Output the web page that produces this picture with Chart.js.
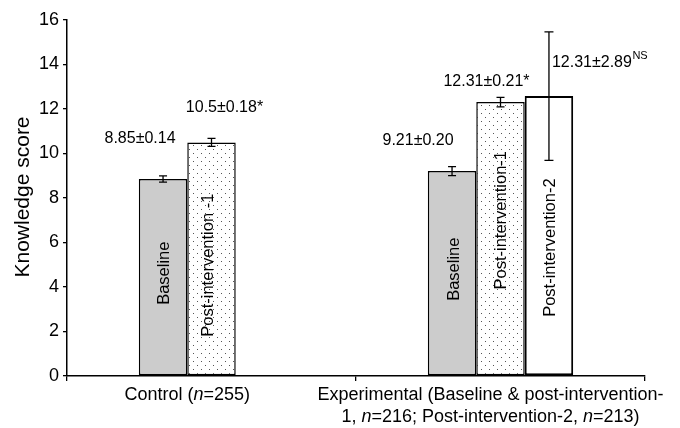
<!DOCTYPE html>
<html>
<head>
<meta charset="utf-8">
<script src="https://cdn.jsdelivr.net/npm/chart.js@4"></script>
<style>
  html, body { margin: 0; padding: 0; background: #fff; }
  #wrap { width: 680px; height: 428px; position: relative; }
</style>
</head>
<body>
<div id="wrap"><canvas id="c" width="680" height="428"></canvas></div>
<script>
// ---- data ----
const categories = ['Control', 'Experimental'];
const baseline = [8.85, 9.21];
const post1 = [10.5, 12.31];
const post2 = [null, 12.58];
const baselineErr = [0.14, 0.20];
const post1Err = [0.18, 0.21];
const post2Err = [null, 2.89];
const baselineText = ['8.85±0.14', '9.21±0.20'];
const post1Text = ['10.5±0.18*', '12.31±0.21*'];
const post2Text = [null, '12.31±2.89'];
const post2Sup = [null, 'NS'];
const seriesNames = ['Baseline', 'Post-intervention-1', 'Post-intervention-2'];
const yMin = 0, yMax = 16, yStep = 2;

const FONT = '"Liberation Sans", Arial, Helvetica, sans-serif';

// dotted pattern
function makePattern() {
  const p = document.createElement('canvas');
  p.width = 8; p.height = 8;
  const g = p.getContext('2d');
  g.fillStyle = '#ffffff';
  g.fillRect(0, 0, 8, 8);
  g.fillStyle = '#555555';
  g.fillRect(1, 1, 1, 1);
  g.fillRect(5, 5, 1, 1);
  return g.createPattern(p, 'repeat');
}
const ctx0 = document.getElementById('c').getContext('2d');
const dots = makePattern();

const errs = [baselineErr, post1Err, post2Err];
const valueTexts = [baselineText, post1Text, post2Text];
// label placement relative to bar (px)
const valueLabelPlacement = [
  [{dx: -23, dy: -40, align: 'center'}, {dx: -34, dy: -30, align: 'center'}],
  [{dx: 13, dy: -35, align: 'center'}, {dx: -14, dy: -21, align: 'center'}],
  [null, {dx: 3, dy: -34, align: 'left'}]
];
// in-bar label centre (data units along bar) and x offset
const inBarPlacement = [
  [{at: 4.62, dx: 0, text: 'Baseline'}, {at: 4.8, dx: 1, text: 'Baseline'}],
  [{at: 4.98, dx: -4, text: 'Post-intervention -1'}, {at: 7.0, dx: 0, text: 'Post-intervention-1'}],
  [null, {at: 5.77, dx: 0, text: 'Post-intervention-2'}]
];

const xLabelLines = [
  [[['Control (', false], ['n', true], ['=255)', false]]],
  [[['Experimental (Baseline & post-intervention-', false]],
   [['1, ', false], ['n', true], ['=216; Post-intervention-2, ', false], ['n', true], ['=213)', false]]]
];

const annot = {
  id: 'annot',
  afterDatasetsDraw(chart) {
    const ctx = chart.ctx;
    const ys = chart.scales.y;
    const xs = chart.scales.x;
    ctx.save();
    // error bars
    ctx.strokeStyle = '#000';
    ctx.lineWidth = 1.3;
    for (let d = 0; d < 3; d++) {
      const meta = chart.getDatasetMeta(d);
      const vals = chart.data.datasets[d].data;
      for (let j = 0; j < vals.length; j++) {
        if (vals[j] == null) continue;
        const bar = meta.data[j];
        const e = errs[d][j];
        const yTop = ys.getPixelForValue(vals[j] + e);
        const yBot = ys.getPixelForValue(vals[j] - e);
        const cap = e > 1 ? 4.5 : 4;
        ctx.beginPath();
        ctx.moveTo(bar.x, yTop); ctx.lineTo(bar.x, yBot);
        ctx.moveTo(bar.x - cap, yTop); ctx.lineTo(bar.x + cap, yTop);
        ctx.moveTo(bar.x - cap, yBot); ctx.lineTo(bar.x + cap, yBot);
        ctx.stroke();
      }
    }
    // value labels
    ctx.fillStyle = '#000';
    ctx.textBaseline = 'middle';
    for (let d = 0; d < 3; d++) {
      const meta = chart.getDatasetMeta(d);
      const vals = chart.data.datasets[d].data;
      for (let j = 0; j < vals.length; j++) {
        if (vals[j] == null || !valueTexts[d][j]) continue;
        const bar = meta.data[j];
        const pl = valueLabelPlacement[d][j];
        ctx.font = '16px ' + FONT;
        ctx.textAlign = pl.align;
        const x = bar.x + pl.dx, y = bar.y + pl.dy;
        ctx.fillText(valueTexts[d][j], x, y);
        if (d === 2 && post2Sup[j]) {
          const w = ctx.measureText(valueTexts[d][j]).width;
          ctx.font = '11px ' + FONT;
          ctx.textAlign = 'left';
          ctx.fillText(post2Sup[j], x + w + 0.5, y - 6);
        }
      }
    }
    // in-bar labels
    ctx.font = '16.5px ' + FONT;
    ctx.textAlign = 'center';
    ctx.textBaseline = 'middle';
    for (let d = 0; d < 3; d++) {
      const meta = chart.getDatasetMeta(d);
      const vals = chart.data.datasets[d].data;
      for (let j = 0; j < vals.length; j++) {
        const pl = inBarPlacement[d][j];
        if (vals[j] == null || !pl) continue;
        const bar = meta.data[j];
        ctx.save();
        ctx.translate(bar.x + pl.dx, ys.getPixelForValue(pl.at));
        ctx.rotate(-Math.PI / 2);
        ctx.fillText(pl.text, 0, 1);
        ctx.restore();
      }
    }
    // x category labels (with italic n)
    const m0 = chart.getDatasetMeta(0), m1 = chart.getDatasetMeta(1);
    const centers = [
      (m0.data[0].x + m1.data[0].x) / 2,
      xs.getPixelForValue(1) - 10
    ];
    ctx.textBaseline = 'alphabetic';
    ctx.textAlign = 'left';
    const base0 = xs.top + 24;
    for (let c = 0; c < xLabelLines.length; c++) {
      xLabelLines[c].forEach((line, li) => {
        let total = 0;
        line.forEach(([t, it]) => { ctx.font = (it ? 'italic ' : '') + '18px ' + FONT; total += ctx.measureText(t).width; });
        let x = centers[c] - total / 2;
        const y = base0 + li * 21.5;
        line.forEach(([t, it]) => {
          ctx.font = (it ? 'italic ' : '') + '18px ' + FONT;
          ctx.fillText(t, x, y);
          x += ctx.measureText(t).width;
        });
      });
    }
    // y axis title
    ctx.save();
    ctx.font = '21px ' + FONT;
    ctx.textAlign = 'center';
    ctx.textBaseline = 'middle';
    ctx.translate(23, (chart.chartArea.top + chart.chartArea.bottom) / 2 - 1);
    ctx.rotate(-Math.PI / 2);
    ctx.fillText('Knowledge score', 0, 0);
    ctx.restore();
    ctx.restore();
  }
};

Chart.defaults.font.family = FONT;
Chart.defaults.color = '#000';

new Chart(ctx0, {
  type: 'bar',
  data: {
    labels: categories,
    datasets: [
      { label: seriesNames[0], data: baseline, backgroundColor: '#cccccc', borderColor: '#000', borderWidth: 1.5, borderSkipped: false },
      { label: seriesNames[1], data: post1, backgroundColor: dots, borderColor: '#000', borderWidth: 1.5, borderSkipped: false },
      { label: seriesNames[2], data: post2, backgroundColor: '#ffffff', borderColor: '#000', borderWidth: 2, borderSkipped: false }
    ]
  },
  options: {
    responsive: false,
    animation: false,
    events: [],
    categoryPercentage: 0.503,
    barPercentage: 1.0,
    layout: { padding: { left: 0, right: 35, top: 20, bottom: 0 } },
    plugins: { legend: { display: false }, tooltip: { enabled: false }, title: { display: false } },
    scales: {
      x: {
        offset: true,
        grid: { display: true, offset: true, drawOnChartArea: false, drawTicks: true, tickLength: 5, color: '#000', lineWidth: 1.3 },
        border: { display: true, color: '#000', width: 1.5 },
        ticks: { display: false },
        afterFit(s) { s.height = 52; }
      },
      y: {
        min: yMin, max: yMax,
        grid: { display: true, drawOnChartArea: false, drawTicks: true, tickLength: 4, color: '#000', lineWidth: 1.3 },
        border: { display: true, color: '#000', width: 1.5 },
        ticks: { stepSize: yStep, padding: 4, font: { size: 18 }, color: '#000' },
        afterFit(s) { s.width = 67; }
      }
    }
  },
  plugins: [annot]
});
</script>
</body>
</html>
